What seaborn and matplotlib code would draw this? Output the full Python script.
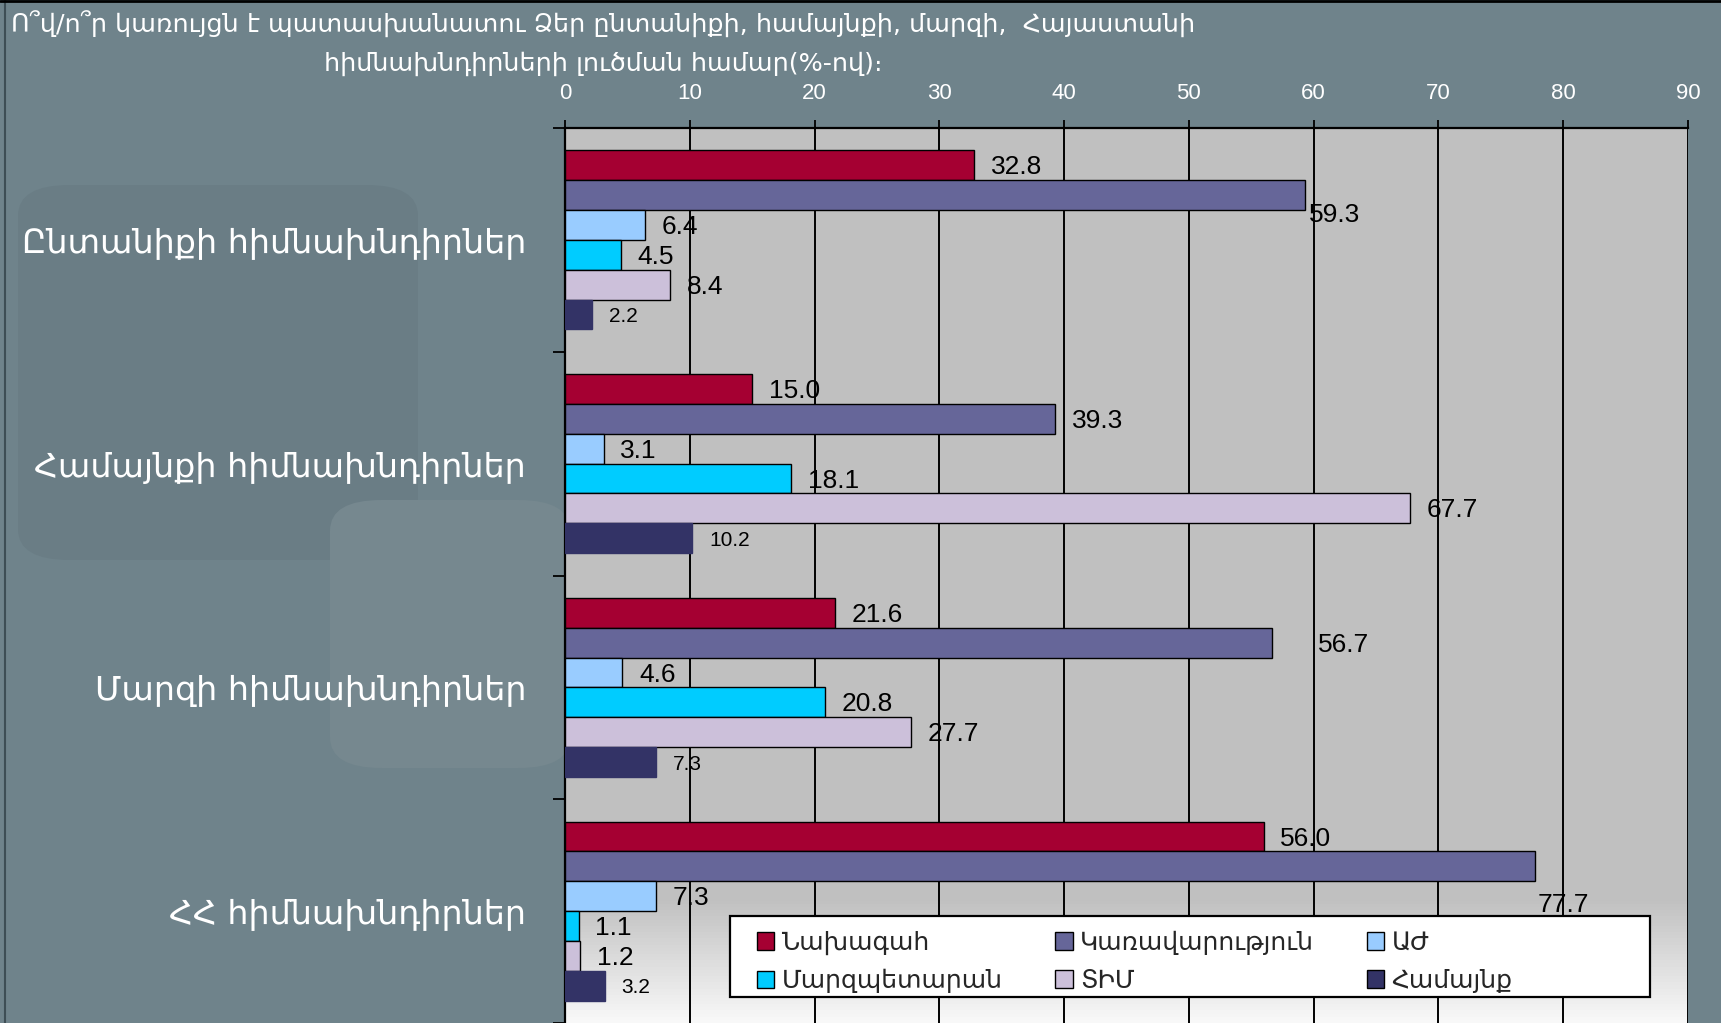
import matplotlib
matplotlib.use("Agg")
import matplotlib.pyplot as plt
import pandas as pd
import seaborn as sns
from matplotlib.colors import to_hex
from matplotlib.lines import Line2D
from matplotlib.patches import FancyBboxPatch, Patch, Rectangle

title_line1 = "Ո՞վ/ո՞ր կառույցն է պատասխանատու Ձեր ընտանիքի, համայնքի, մարզի,  Հայաստանի"
title_line2 = "հիմնախնդիրների լուծման համար(%-ով)։"

categories = [
    "Ընտանիքի հիմնախնդիրներ",
    "Համայնքի հիմնախնդիրներ",
    "Մարզի հիմնախնդիրներ",
    "ՀՀ հիմնախնդիրներ",
]
series = ["Նախագահ", "Կառավարություն", "ԱԺ", "Մարզպետարան", "ՏԻՄ", "Համայնք"]

nakhagah = [32.8, 15.0, 21.6, 56.0]
karavarutyun = [59.3, 39.3, 56.7, 77.7]
azgayin_zhoghov = [6.4, 3.1, 4.6, 7.3]
marzpetaran = [4.5, 18.1, 20.8, 1.1]
tim = [8.4, 67.7, 27.7, 1.2]
hamaynk = [2.2, 10.2, 7.3, 3.2]

colors = ["#A50032", "#666699", "#99CCFF", "#00CCFF", "#CCC0DA", "#333366"]
x_ticks = [0, 10, 20, 30, 40, 50, 60, 70, 80, 90]

ARM = ["DejaVu Sans"]
NUM = ["Liberation Sans", "DejaVu Sans"]

# a few labels sit off their default spot in the original (series idx, category idx) -> points
label_nudge = {(1, 0): (-9, -13), (1, 2): (21, 0), (1, 3): (-10, -26)}

W, H = 1721, 1023


def main() -> None:
    values = [nakhagah, karavarutyun, azgayin_zhoghov, marzpetaran, tim, hamaynk]
    rows = []
    for name, vals in zip(series, values):
        for cat, v in zip(categories, vals):
            rows.append({"category": cat, "series": name, "value": v})
    df = pd.DataFrame(rows)

    sns.set_style("white")
    plt.rcParams["font.family"] = ARM

    bg = "#6F838B"
    fig = plt.figure(figsize=(W / 100, H / 100), dpi=100, facecolor=bg)

    # faint shapes of the slide background
    fig.patches.append(FancyBboxPatch(
        (18 / W, 1 - 560 / H), 400 / W, 375 / H, boxstyle="round,pad=0,rounding_size=0.03",
        transform=fig.transFigure, facecolor="#6A7D85", edgecolor="none", zorder=-2))
    fig.patches.append(FancyBboxPatch(
        (330 / W, 1 - 768 / H), 240 / W, 268 / H, boxstyle="round,pad=0,rounding_size=0.03",
        transform=fig.transFigure, facecolor="#76888F", edgecolor="none", zorder=-2))
    fig.lines.append(Line2D([5 / W, 5 / W], [0, 1], transform=fig.transFigure,
                            color="#3E4E55", linewidth=1.5, zorder=-1))
    fig.lines.append(Line2D([0, 1], [1 - 1 / H, 1 - 1 / H], transform=fig.transFigure,
                            color="black", linewidth=2, zorder=-1))

    ax = fig.add_axes([565 / W, 0.0, (1688 - 565) / W, 1 - 128 / H])
    ax.set_facecolor("#C0C0C0")

    # fade to white at the bottom of the plot area
    fade = sns.blend_palette(["#F8F8F8", "#C0C0C0"], n_colors=40)
    for k, c in enumerate(fade):
        ax.add_patch(Rectangle((0, k * 0.0035), 1, 0.0036, transform=ax.transAxes,
                               facecolor=to_hex(c), edgecolor="none", zorder=0))

    sns.barplot(
        data=df, x="value", y="category", hue="series", orient="h",
        order=categories, hue_order=series, palette=colors, saturation=1,
        width=0.8, edgecolor="black", linewidth=1, legend=False, ax=ax, zorder=3,
    )
    # the darkest series has no visible outline
    for bar in ax.containers[5]:
        bar.set_edgecolor(colors[5])

    for i, cont in enumerate(ax.containers):
        small = i == 5
        for j, bar in enumerate(cont):
            dx, dy = label_nudge.get((i, j), (0, 0))
            ax.annotate(
                f"{bar.get_width():.1f}",
                (bar.get_width(), bar.get_y() + bar.get_height() / 2),
                xytext=(12 + dx, -1.5 + dy), textcoords="offset points",
                ha="left", va="center", fontsize=15 if small else 19,
                family=NUM, color="black", zorder=5,
            )

    ax.set_xlim(0, 90)
    ax.set_ylim(3.5, -0.5)
    ax.xaxis.tick_top()
    ax.set_xticks(x_ticks)
    ax.set_xticklabels([str(t) for t in x_ticks], family=NUM, fontsize=16, color="white")
    ax.tick_params(axis="x", top=True, bottom=False, direction="out", length=6,
                   width=1.3, color="black", pad=11)
    ax.grid(axis="x", color="black", linewidth=1.4, zorder=1)
    ax.set_axisbelow(True)

    ax.set_yticks(range(len(categories)))
    ax.set_yticklabels(categories, fontsize=24, color="white", family=ARM)
    ax.tick_params(axis="y", which="major", left=True, length=0, pad=28)
    ax.set_yticks([-0.5, 0.5, 1.5, 2.5, 3.5], minor=True)
    ax.tick_params(axis="y", which="minor", left=True, direction="out", length=9,
                   width=1.3, color="black")
    ax.set_xlabel("")
    ax.set_ylabel("")

    for side in ["right", "bottom"]:
        ax.spines[side].set_visible(False)
    for side in ["left", "top"]:
        ax.spines[side].set_color("black")
        ax.spines[side].set_linewidth(1.6)

    # legend frame is wider than its entries in the original
    fig.patches.append(Rectangle(
        (730 / W, 1 - 997 / H), 920 / W, 81 / H, transform=fig.transFigure,
        facecolor="white", edgecolor="black", linewidth=1.6, zorder=8))
    handles = [Patch(facecolor=c, edgecolor="black", linewidth=1) for c in colors]
    order = [0, 3, 1, 4, 2, 5]
    leg = fig.legend(
        [handles[i] for i in order], [series[i] for i in order],
        ncol=3, loc="center left", bbox_to_anchor=(744 / W, 1 - 962 / H),
        frameon=False, handlelength=0.7, handleheight=0.7, handletextpad=0.3,
        labelspacing=0.55, columnspacing=2.1, borderpad=0.0,
        prop={"family": ARM, "size": 18},
    )
    leg.set_zorder(10)

    fig.text(11 / W, 1 - 24 / H, title_line1, ha="left", va="center",
             fontsize=18.3, color="white", family=ARM)
    fig.text(603 / W, 1 - 64 / H, title_line2, ha="center", va="center",
             fontsize=18.3, color="white", family=ARM)

    fig.savefig("out.png", dpi=100, facecolor=bg)


if __name__ == "__main__":
    main()
